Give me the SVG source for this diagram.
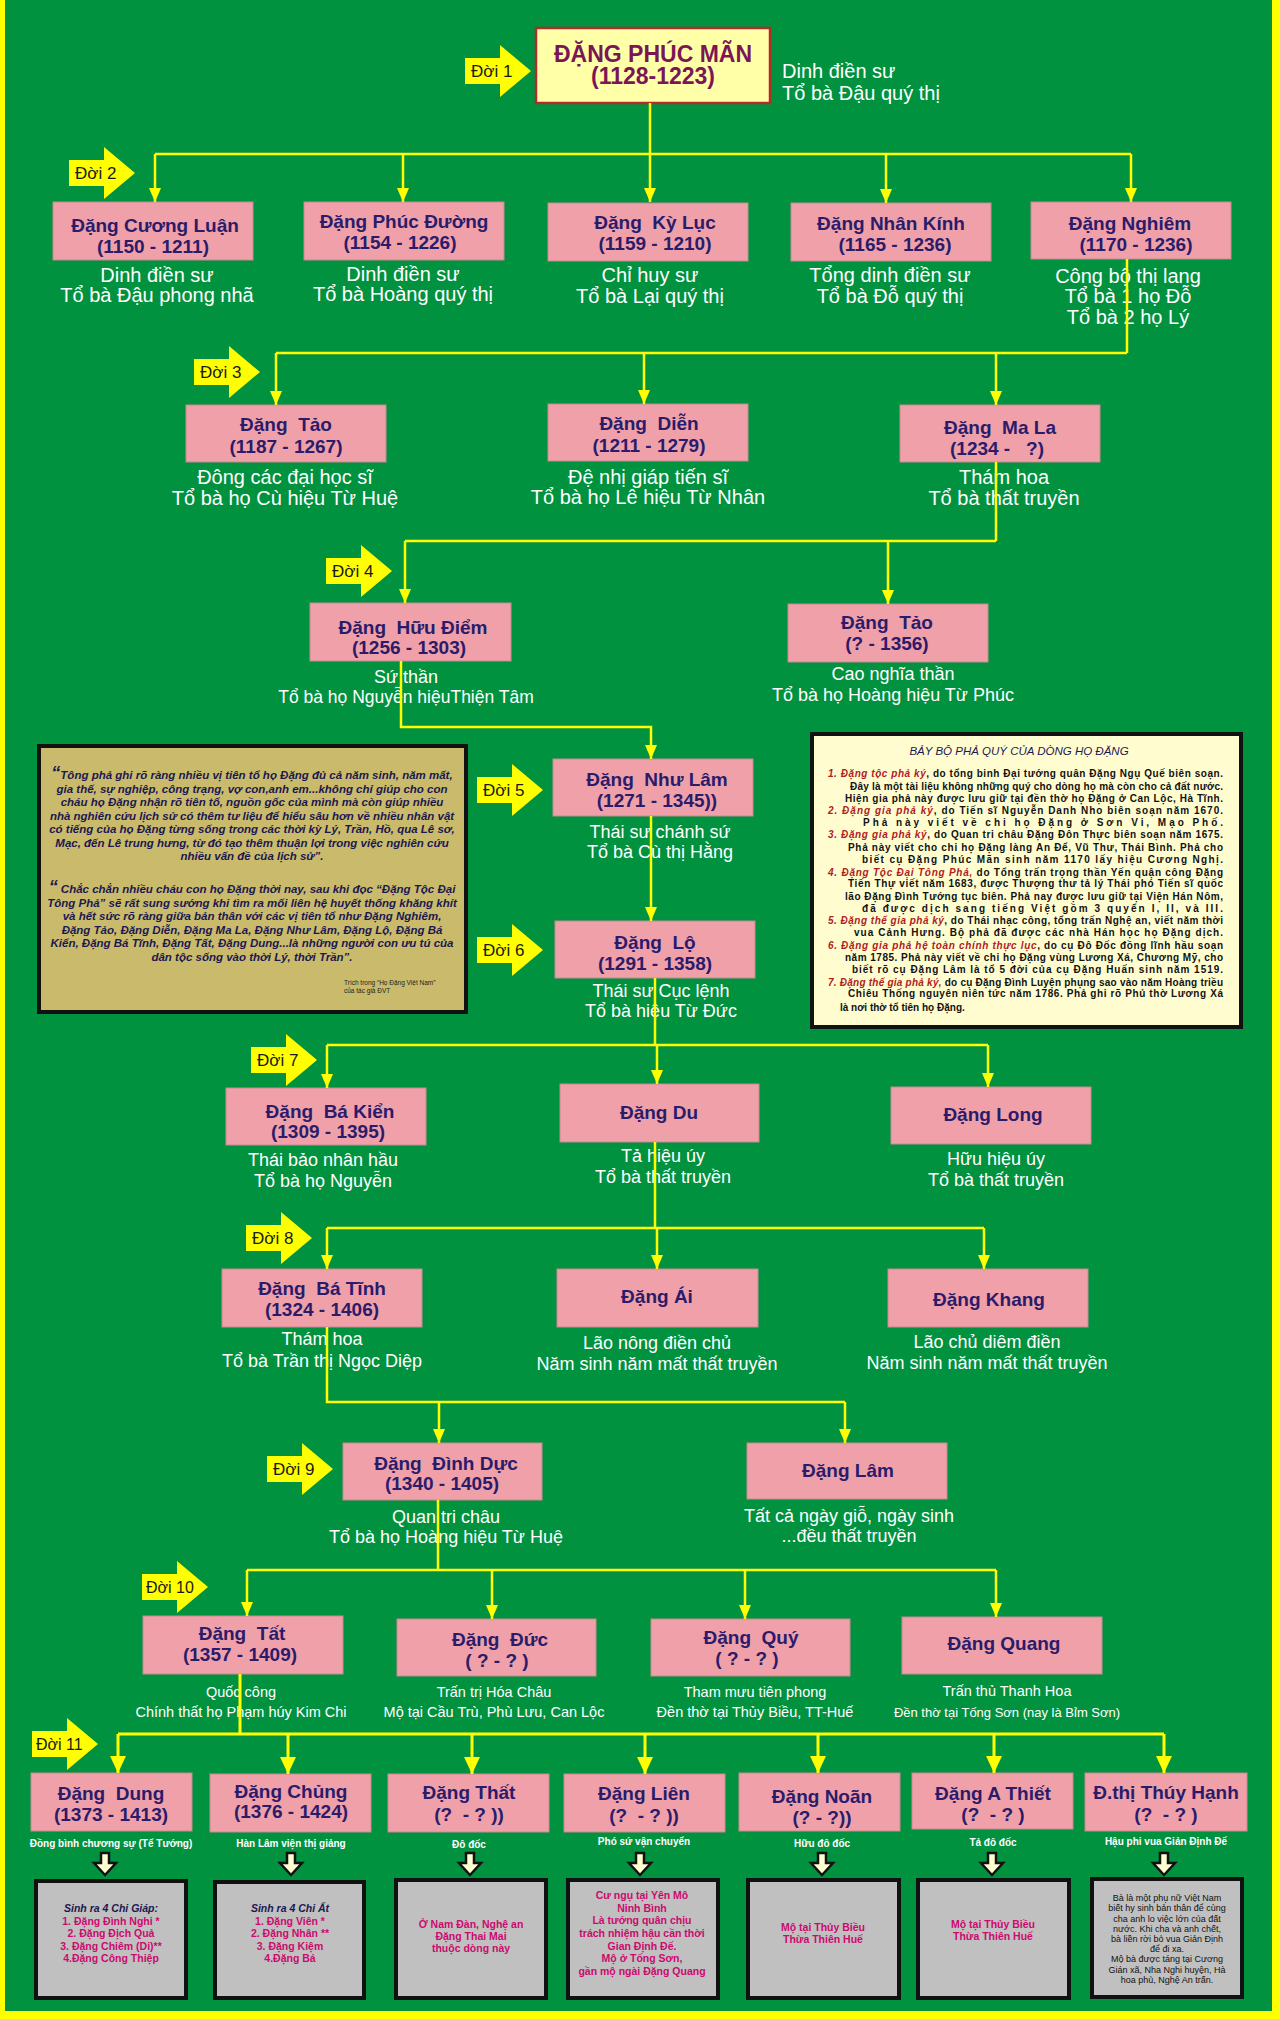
<svg xmlns="http://www.w3.org/2000/svg" width="1280" height="2019" viewBox="0 0 1280 2019">
<style>
text{font-family:"Liberation Sans",Arial,sans-serif}
.name{font-size:19px;font-weight:bold;fill:#2a1b6b;text-anchor:middle;white-space:pre}
.root{font-size:23px;font-weight:bold;fill:#7a1655;text-anchor:middle}
.sub{font-size:18px;fill:#fff;text-anchor:middle}
.subL{font-size:20px;fill:#fff;text-anchor:middle}
.sub10{font-size:14.5px;fill:#fff;text-anchor:middle}
.s11{font-size:10px;font-weight:bold;fill:#fff;text-anchor:middle}
.doi{font-size:17px;fill:#1a1a1a}
.box{fill:#f0a0a8;stroke:#c98a92;stroke-width:1}
.gbox{fill:#c0c0c0;stroke:#111;stroke-width:4}
.mag{font-size:10.5px;font-weight:bold;fill:#cc0a6e;text-anchor:middle}
.hd{font-size:10.5px;font-weight:bold;font-style:italic;fill:#1c1750;text-anchor:middle}
.blk{font-size:9px;fill:#111;text-anchor:middle}
.qt{font-size:11.5px;font-weight:bold;font-style:italic;fill:#1c1750;text-anchor:middle}
.rb{font-size:10px;font-weight:bold;fill:#111}
.red{fill:#b0201e;font-style:italic}
.ya{fill:#ffff00}
.da{fill:#ffffd0;stroke:#111;stroke-width:2.5}
.ln{fill:none;stroke:#ffff00;stroke-width:2.5}
.lnb{fill:none;stroke:#ffff00;stroke-width:3}
</style>
<defs>
<marker id="ah" viewBox="0 0 14 12" refX="14" refY="6" markerWidth="14" markerHeight="12" markerUnits="userSpaceOnUse" orient="auto"><path d="M0,0 L14,6 L0,12 Z" fill="#ffff00"/></marker>
<marker id="ahb" viewBox="0 0 17 16" refX="17" refY="8" markerWidth="17" markerHeight="16" markerUnits="userSpaceOnUse" orient="auto"><path d="M0,0 L17,8 L0,16 Z" fill="#ffff00"/></marker>
<path id="doiShape" d="M0,-13 H35 V-26 L66,0 L35,26 V13 H0 Z"/>
</defs>

<rect x="0" y="0" width="1280" height="2019" fill="#ffff00"/>
<rect x="5" y="0" width="1267" height="2011" fill="#00923f"/>

<!-- Doi arrows -->
<g id="doi-labels">
<g transform="translate(465,71)"><use href="#doiShape" class="ya"/><text class="doi" x="6" y="6">Đời 1</text></g>
<g transform="translate(69,173)"><use href="#doiShape" class="ya"/><text class="doi" x="6" y="6">Đời 2</text></g>
<g transform="translate(194,372)"><use href="#doiShape" class="ya"/><text class="doi" x="6" y="6">Đời 3</text></g>
<g transform="translate(326,571)"><use href="#doiShape" class="ya"/><text class="doi" x="6" y="6">Đời 4</text></g>
<g transform="translate(477,790)"><use href="#doiShape" class="ya"/><text class="doi" x="6" y="6">Đời 5</text></g>
<g transform="translate(477,950)"><use href="#doiShape" class="ya"/><text class="doi" x="6" y="6">Đời 6</text></g>
<g transform="translate(251,1060)"><use href="#doiShape" class="ya"/><text class="doi" x="6" y="6">Đời 7</text></g>
<g transform="translate(246,1238)"><use href="#doiShape" class="ya"/><text class="doi" x="6" y="6">Đời 8</text></g>
<g transform="translate(267,1469)"><use href="#doiShape" class="ya"/><text class="doi" x="6" y="6">Đời 9</text></g>
<g transform="translate(142,1587)"><use href="#doiShape" class="ya"/><text class="doi" x="4" y="6" style="font-size:16px">Đời 10</text></g>
<g transform="translate(32,1744)"><use href="#doiShape" class="ya"/><text class="doi" x="4" y="6" style="font-size:16px">Đời 11</text></g>
</g>

<!-- Gen 1 -->
<g id="n-phuc-man">
<rect x="536" y="28" width="234" height="75" fill="#ffffa8" stroke="#b22a2a" stroke-width="2.5"/>
<text class="root" x="653" y="62">ĐẶNG PHÚC MÃN</text>
<text class="root" x="653" y="84">(1128-1223)</text>
<text class="subL" x="782" y="78" style="text-anchor:start">Dinh điền sư</text>
<text class="subL" x="782" y="100" style="text-anchor:start">Tổ bà Đậu quý thị</text>
</g>

<!-- Gen 2 -->
<g id="n-cuong-luan"><rect class="box" x="53" y="202" width="200" height="58"/>
<text class="name" x="155" y="232">Đặng Cương Luận</text><text class="name" x="153" y="253">(1150 - 1211)</text>
<text class="subL" x="157" y="282">Dinh điền sư</text><text class="subL" x="157" y="302">Tổ bà Đậu phong nhã</text></g>
<g id="n-phuc-duong"><rect class="box" x="304" y="202" width="200" height="58"/>
<text class="name" x="404" y="228">Đặng Phúc Đường</text><text class="name" x="400" y="249">(1154 - 1226)</text>
<text class="subL" x="403" y="281">Dinh điền sư</text><text class="subL" x="403" y="301">Tổ bà Hoàng quý thị</text></g>
<g id="n-ky-luc"><rect class="box" x="548" y="203" width="200" height="58"/>
<text class="name" x="655" y="229">Đặng  Kỳ Lục</text><text class="name" x="655" y="250">(1159 - 1210)</text>
<text class="subL" x="650" y="282">Chỉ huy sư</text><text class="subL" x="650" y="303">Tổ bà Lại quý thị</text></g>
<g id="n-nhan-kinh"><rect class="box" x="791" y="203" width="200" height="58"/>
<text class="name" x="891" y="230">Đặng Nhân Kính</text><text class="name" x="895" y="251">(1165 - 1236)</text>
<text class="subL" x="890" y="282">Tổng dinh điền sư</text><text class="subL" x="890" y="303">Tổ bà Đỗ quý thị</text></g>
<g id="n-nghiem"><rect class="box" x="1031" y="202" width="200" height="57"/>
<text class="name" x="1130" y="230">Đặng Nghiêm</text><text class="name" x="1136" y="251">(1170 - 1236)</text>
<text class="subL" x="1128" y="283">Công bộ thị lang</text><text class="subL" x="1128" y="303">Tổ bà 1 họ Đỗ</text><text class="subL" x="1128" y="324">Tổ bà 2 họ Lý</text></g>

<!-- Gen 3 -->
<g id="n-tao-1"><rect class="box" x="186" y="405" width="200" height="57"/>
<text class="name" x="286" y="431">Đặng  Tảo</text><text class="name" x="286" y="453">(1187 - 1267)</text>
<text class="subL" x="285" y="484">Đông các đại học sĩ</text><text class="subL" x="285" y="505">Tổ bà họ Cù hiệu Từ Huệ</text></g>
<g id="n-dien"><rect class="box" x="548" y="404" width="200" height="57"/>
<text class="name" x="649" y="430">Đặng  Diễn</text><text class="name" x="649" y="452">(1211 - 1279)</text>
<text class="subL" x="648" y="484">Đệ nhị giáp tiến sĩ</text><text class="subL" x="648" y="504">Tổ bà họ Lê hiệu Từ Nhân</text></g>
<g id="n-ma-la"><rect class="box" x="900" y="405" width="200" height="57"/>
<text class="name" x="1000" y="434">Đặng  Ma La</text><text class="name" x="997" y="455">(1234 -   ?)</text>
<text class="subL" x="1004" y="484">Thám hoa</text><text class="subL" x="1004" y="505">Tổ bà thất truyền</text></g>

<!-- Gen 4 -->
<g id="n-huu-diem"><rect class="box" x="310" y="603" width="201" height="58"/>
<text class="name" x="413" y="634">Đặng  Hữu Điểm</text><text class="name" x="409" y="654">(1256 - 1303)</text>
<text class="sub" x="406" y="683">Sứ thần</text><text class="sub" x="406" y="703" style="font-size:17.5px">Tổ bà họ Nguyễn hiệuThiện Tâm</text></g>
<g id="n-tao-2"><rect class="box" x="788" y="604" width="200" height="58"/>
<text class="name" x="887" y="629">Đặng  Tảo</text><text class="name" x="887" y="650">(? - 1356)</text>
<text class="sub" x="893" y="680">Cao nghĩa thần</text><text class="sub" x="893" y="701">Tổ bà họ Hoàng hiệu Từ Phúc</text></g>

<!-- Gen 5 -->
<g id="n-nhu-lam"><rect class="box" x="553" y="759" width="200" height="57"/>
<text class="name" x="657" y="786">Đặng  Như Lâm</text><text class="name" x="657" y="807">(1271 - 1345))</text>
<text class="sub" x="660" y="838">Thái sư chánh sứ</text><text class="sub" x="660" y="858">Tổ bà Cù thị Hằng</text></g>

<!-- Gen 6 -->
<g id="n-lo"><rect class="box" x="555" y="921" width="200" height="57"/>
<text class="name" x="655" y="949">Đặng  Lộ</text><text class="name" x="655" y="970">(1291 - 1358)</text>
<text class="sub" x="661" y="997">Thái sư Cục lệnh</text><text class="sub" x="661" y="1017">Tổ bà hiệu Từ Đức</text></g>

<!-- Quote box -->
<g id="quote-box">
<rect x="39" y="746" width="427" height="266" fill="#c9bb6b" stroke="#111" stroke-width="4"/>
<text class="qt" x="252" y="779"><tspan style="font-size:18px">“</tspan>Tông phả ghi rõ ràng nhiều vị tiên tổ họ Đặng đủ cả năm sinh, năm mất,</text>
<text class="qt" x="252" y="792.5">gia thế, sự nghiệp, công trạng, vợ con,anh em...không chỉ giúp cho con</text>
<text class="qt" x="252" y="806">cháu họ Đặng nhận rõ tiên tổ, nguồn gốc của mình mà còn giúp nhiều</text>
<text class="qt" x="252" y="819.5">nhà nghiên cứu lịch sử có thêm tư liệu để hiểu sâu hơn về nhiều nhân vật</text>
<text class="qt" x="252" y="833">có tiếng của họ Đặng từng sống trong các thời kỳ Lý, Trần, Hồ, qua Lê sơ,</text>
<text class="qt" x="252" y="846.5">Mạc, đến Lê trung hưng, từ đó tạo thêm thuận lợi trong việc nghiên cứu</text>
<text class="qt" x="252" y="860">nhiều vấn đề của lịch sử”.</text>
<text class="qt" x="252" y="893"><tspan style="font-size:18px">“</tspan> Chắc chắn nhiều cháu con họ Đặng thời nay, sau khi đọc “Đặng Tộc Đại</text>
<text class="qt" x="252" y="906.5">Tông Phả” sẽ rất sung sướng khi tìm ra mối liên hệ huyết thống khăng khít</text>
<text class="qt" x="252" y="920">và hết sức rõ ràng giữa bản thân với các vị tiên tổ như Đặng Nghiêm,</text>
<text class="qt" x="252" y="933.5">Đặng Tảo, Đặng Diễn, Đặng Ma La, Đặng Như Lâm, Đặng Lộ, Đặng Bá</text>
<text class="qt" x="252" y="947">Kiển, Đặng Bá Tĩnh, Đặng Tất, Đặng Dung...là những người con ưu tú của</text>
<text class="qt" x="252" y="960.5">dân tộc sống vào thời Lý, thời Trần”.</text>
<text x="344" y="985" style="font-size:6.5px;fill:#222">Trích trong “Họ Đặng Việt Nam”</text>
<text x="344" y="993" style="font-size:6.5px;fill:#222">của tác giả ĐVT</text>
</g>

<!-- Right box -->
<g id="pha-box">
<rect x="812" y="734" width="429" height="293" fill="#fffdd0" stroke="#111" stroke-width="4"/>
<text x="1019" y="755" style="font-size:11.5px;font-style:italic;fill:#1c1750;text-anchor:middle">BẢY BỘ PHẢ QUÝ CỦA DÒNG HỌ ĐẶNG</text>
<text class="rb" x="828" y="777" textLength="395" lengthAdjust="spacing"><tspan class="red">1. Đặng tộc phả ký</tspan>, do tổng binh Đại tướng quân Đặng Ngụ Quế biên soạn.</text>
<text class="rb" x="850" y="790" textLength="373" lengthAdjust="spacing">Đây là một tài liệu không những quý cho dòng họ mà còn cho cả đất nước.</text>
<text class="rb" x="845" y="802" textLength="378" lengthAdjust="spacing">Hiện gia phả này được lưu giữ tại đền thờ họ Đặng ở Can Lộc, Hà Tĩnh.</text>
<text class="rb" x="828" y="814" textLength="395" lengthAdjust="spacing"><tspan class="red">2. Đặng gia phả ký</tspan>, do Tiến sĩ Nguyễn Danh Nho biên soạn năm 1670.</text>
<text class="rb" x="863" y="826" textLength="360" lengthAdjust="spacing">Phả này viết về chi họ Đặng ở Sơn Vi, Mạo Phố.</text>
<text class="rb" x="828" y="838" textLength="395" lengthAdjust="spacing"><tspan class="red">3. Đặng gia phả ký</tspan>, do Quan tri châu Đặng Đôn Thực biên soạn năm 1675.</text>
<text class="rb" x="848" y="851" textLength="375" lengthAdjust="spacing">Phả này viết cho chi họ Đặng làng An Để, Vũ Thư, Thái Bình. Phả cho</text>
<text class="rb" x="862" y="863" textLength="361" lengthAdjust="spacing">biết cụ Đặng Phúc Mãn sinh năm 1170 lấy hiệu Cương Nghị.</text>
<text class="rb" x="828" y="876" textLength="395" lengthAdjust="spacing"><tspan class="red">4. Đặng Tộc Đại Tông Phả,</tspan> do Tổng trấn trọng thần Yến quận công Đặng</text>
<text class="rb" x="848" y="887" textLength="375" lengthAdjust="spacing">Tiến Thự viết năm 1683, được Thượng thư tả lý Thái phó Tiến sĩ quốc</text>
<text class="rb" x="845" y="900" textLength="378" lengthAdjust="spacing">lão Đặng Đình Tướng tục biên. Phả nay được lưu giữ tại Viện Hán Nôm,</text>
<text class="rb" x="862" y="912" textLength="361" lengthAdjust="spacing">đã được dịch sang tiếng Việt gồm 3 quyển I, II, và III.</text>
<text class="rb" x="828" y="924" textLength="395" lengthAdjust="spacing"><tspan class="red">5. Đặng thế gia phả ký</tspan>, do Thái nhạc công, tổng trấn Nghệ an, viết năm thời</text>
<text class="rb" x="854" y="936" textLength="369" lengthAdjust="spacing">vua Cảnh Hưng. Bộ phả đã được các nhà Hán học họ Đặng dịch.</text>
<text class="rb" x="828" y="949" textLength="395" lengthAdjust="spacing"><tspan class="red">6. Đặng gia phả hệ toàn chính thực lục</tspan>, do cụ Đô Đốc đồng lĩnh hầu soạn</text>
<text class="rb" x="845" y="961" textLength="378" lengthAdjust="spacing">năm 1785. Phả này viết về chi họ Đặng vùng Lương Xá, Chương Mỹ, cho</text>
<text class="rb" x="852" y="973" textLength="371" lengthAdjust="spacing">biết rõ cụ Đặng Lâm là tổ 5 đời của cụ Đặng Huấn sinh năm 1519.</text>
<text class="rb" x="828" y="986" textLength="395" lengthAdjust="spacing"><tspan class="red">7. Đặng thế gia phả ký,</tspan> do cụ Đặng Đình Luyện phụng sao vào năm Hoàng triều</text>
<text class="rb" x="848" y="997" textLength="375" lengthAdjust="spacing">Chiêu Thống nguyên niên tức năm 1786. Phả ghi rõ Phủ thờ Lương Xá</text>
<text class="rb" x="840" y="1011">là nơi thờ tổ tiên họ Đặng.</text>
</g>

<!-- Gen 7 -->
<g id="n-ba-kien"><rect class="box" x="226" y="1088" width="200" height="57"/>
<text class="name" x="330" y="1118">Đặng  Bá Kiển</text><text class="name" x="328" y="1138">(1309 - 1395)</text>
<text class="sub" x="323" y="1166">Thái bảo nhân hầu</text><text class="sub" x="323" y="1187">Tổ bà họ Nguyễn</text></g>
<g id="n-du"><rect class="box" x="560" y="1084" width="199" height="58"/>
<text class="name" x="659" y="1119">Đặng Du</text>
<text class="sub" x="663" y="1162">Tả hiệu úy</text><text class="sub" x="663" y="1183">Tổ bà thất truyền</text></g>
<g id="n-long"><rect class="box" x="891" y="1087" width="200" height="57"/>
<text class="name" x="993" y="1121">Đặng Long</text>
<text class="sub" x="996" y="1165">Hữu hiệu úy</text><text class="sub" x="996" y="1186">Tổ bà thất truyền</text></g>

<!-- Gen 8 -->
<g id="n-ba-tinh"><rect class="box" x="222" y="1269" width="200" height="58"/>
<text class="name" x="322" y="1295">Đặng  Bá Tĩnh</text><text class="name" x="322" y="1316">(1324 - 1406)</text>
<text class="sub" x="322" y="1345">Thám hoa</text><text class="sub" x="322" y="1367">Tổ bà Trần thị Ngọc Diệp</text></g>
<g id="n-ai"><rect class="box" x="557" y="1269" width="201" height="58"/>
<text class="name" x="657" y="1303">Đặng Ái</text>
<text class="sub" x="657" y="1349">Lão nông điền chủ</text><text class="sub" x="657" y="1370">Năm sinh năm mất thất truyền</text></g>
<g id="n-khang"><rect class="box" x="888" y="1269" width="200" height="58"/>
<text class="name" x="989" y="1306">Đặng Khang</text>
<text class="sub" x="987" y="1348">Lão chủ diêm điền</text><text class="sub" x="987" y="1369">Năm sinh năm mất thất truyền</text></g>

<!-- Gen 9 -->
<g id="n-dinh-duc"><rect class="box" x="343" y="1443" width="199" height="57"/>
<text class="name" x="446" y="1470">Đặng  Đình Dực</text><text class="name" x="442" y="1490">(1340 - 1405)</text>
<text class="sub" x="446" y="1523">Quan tri châu</text><text class="sub" x="446" y="1543">Tổ bà họ Hoàng hiệu Từ Huệ</text></g>
<g id="n-lam"><rect class="box" x="747" y="1443" width="200" height="56"/>
<text class="name" x="848" y="1477">Đặng Lâm</text>
<text class="sub" x="849" y="1522">Tất cả ngày giỗ, ngày sinh</text><text class="sub" x="849" y="1542">...đều thất truyền</text></g>

<!-- Gen 10 -->
<g id="n-tat"><rect class="box" x="143" y="1616" width="200" height="58"/>
<text class="name" x="242" y="1640">Đặng  Tất</text><text class="name" x="240" y="1661">(1357 - 1409)</text>
<text class="sub10" x="241" y="1697">Quốc công</text><text class="sub10" x="241" y="1717">Chính thất họ Phạm húy Kim Chi</text></g>
<g id="n-duc"><rect class="box" x="397" y="1619" width="199" height="57"/>
<text class="name" x="500" y="1646">Đặng  Đức</text><text class="name" x="497" y="1667">( ? - ? )</text>
<text class="sub10" x="494" y="1697">Trấn trị Hóa Châu</text><text class="sub10" x="494" y="1717">Mộ tại Cầu Trù, Phù Lưu, Can Lộc</text></g>
<g id="n-quy"><rect class="box" x="651" y="1619" width="199" height="57"/>
<text class="name" x="751" y="1644">Đặng  Quý</text><text class="name" x="747" y="1665">( ? - ? )</text>
<text class="sub10" x="755" y="1697">Tham mưu tiên phong</text><text class="sub10" x="755" y="1717">Đền thờ tại Thủy Biều, TT-Huế</text></g>
<g id="n-quang"><rect class="box" x="902" y="1617" width="200" height="57"/>
<text class="name" x="1004" y="1650">Đặng Quang</text>
<text class="sub10" x="1007" y="1696">Trấn thủ Thanh Hoa</text><text class="sub10" x="1007" y="1717" style="font-size:13px">Đền thờ tại Tống Sơn (nay là Bỉm Sơn)</text></g>

<!-- Gen 11 -->
<g id="n-dung"><rect class="box" x="31" y="1773" width="161" height="58"/>
<text class="name" x="111" y="1800">Đặng  Dung</text><text class="name" x="111" y="1821">(1373 - 1413)</text>
<text class="s11" x="111" y="1847">Đồng bình chương sự (Tể Tướng)</text></g>
<g id="n-chung"><rect class="box" x="210" y="1774" width="161" height="58"/>
<text class="name" x="291" y="1798">Đặng Chủng</text><text class="name" x="291" y="1818">(1376 - 1424)</text>
<text class="s11" x="291" y="1847">Hàn Lâm viện thị giảng</text></g>
<g id="n-that"><rect class="box" x="388" y="1774" width="161" height="58"/>
<text class="name" x="469" y="1799">Đặng Thất</text><text class="name" x="469" y="1821">(?  - ? ))</text>
<text class="s11" x="469" y="1848">Đô đốc</text></g>
<g id="n-lien"><rect class="box" x="564" y="1774" width="161" height="58"/>
<text class="name" x="644" y="1800">Đặng Liên</text><text class="name" x="644" y="1822">(?  - ? ))</text>
<text class="s11" x="644" y="1845">Phó sứ vận chuyển</text></g>
<g id="n-noan"><rect class="box" x="739" y="1773" width="161" height="58"/>
<text class="name" x="822" y="1803">Đặng Noãn</text><text class="name" x="822" y="1824">(? - ?))</text>
<text class="s11" x="822" y="1847">Hữu đô đốc</text></g>
<g id="n-a-thiet"><rect class="box" x="912" y="1773" width="161" height="56"/>
<text class="name" x="993" y="1800">Đặng A Thiết</text><text class="name" x="993" y="1821">(?  - ? )</text>
<text class="s11" x="993" y="1846">Tả đô đốc</text></g>
<g id="n-thuy-hanh"><rect class="box" x="1085" y="1773" width="162" height="58"/>
<text class="name" x="1166" y="1799">Đ.thị Thúy Hạnh</text><text class="name" x="1166" y="1821">(?  - ? )</text>
<text class="s11" x="1166" y="1845">Hậu phi vua Giản Định Đế</text></g>

<!-- Bottom info boxes -->
<g id="info-dung"><rect class="gbox" x="36" y="1881" width="150" height="117"/>
<text class="hd" x="111" y="1912">Sinh ra 4 Chi Giáp:</text>
<text class="mag" x="111" y="1924.5">1. Đặng Đình Nghi *</text>
<text class="mag" x="111" y="1937">2. Đặng Địch Quả</text>
<text class="mag" x="111" y="1949.5">3. Đặng Chiêm (Di)**</text>
<text class="mag" x="111" y="1962">4.Đặng Công Thiệp</text></g>
<g id="info-chung"><rect class="gbox" x="215" y="1882" width="149" height="116"/>
<text class="hd" x="290" y="1912">Sinh ra 4 Chi Ất</text>
<text class="mag" x="290" y="1924.5">1. Đặng Viên *</text>
<text class="mag" x="290" y="1937">2. Đặng Nhân **</text>
<text class="mag" x="290" y="1949.5">3. Đặng Kiệm</text>
<text class="mag" x="290" y="1962">4.Đặng Bá</text></g>
<g id="info-that"><rect class="gbox" x="396" y="1880" width="150" height="118"/>
<text class="mag" x="471" y="1928">Ở Nam Đàn, Nghệ an</text>
<text class="mag" x="471" y="1940">Đặng Thai Mai</text>
<text class="mag" x="471" y="1952">thuộc dòng này</text></g>
<g id="info-lien"><rect class="gbox" x="568" y="1880" width="150" height="118"/>
<text class="mag" x="642" y="1899">Cư ngụ tại Yên Mô</text>
<text class="mag" x="642" y="1911.5">Ninh Bình</text>
<text class="mag" x="642" y="1924">Là tướng quân chịu</text>
<text class="mag" x="642" y="1937">trách nhiệm hậu cần thời</text>
<text class="mag" x="642" y="1949.5">Gian Định Đế.</text>
<text class="mag" x="642" y="1962">Mộ ở Tống Sơn,</text>
<text class="mag" x="642" y="1975">gần mộ ngài Đặng Quang</text></g>
<g id="info-noan"><rect class="gbox" x="748" y="1880" width="151" height="118"/>
<text class="mag" x="823" y="1931">Mộ tại Thủy Biều</text>
<text class="mag" x="823" y="1942.5">Thừa Thiên Huế</text></g>
<g id="info-a-thiet"><rect class="gbox" x="918" y="1880" width="151" height="118"/>
<text class="mag" x="993" y="1928">Mộ tại Thủy Biều</text>
<text class="mag" x="993" y="1939.5">Thừa Thiên Huế</text></g>
<g id="info-thuy-hanh"><rect class="gbox" x="1092" y="1879" width="150" height="118"/>
<text class="blk" x="1167" y="1901">Bà là một phụ nữ Việt Nam</text>
<text class="blk" x="1167" y="1911">biết hy sinh bản thân để cùng</text>
<text class="blk" x="1167" y="1921.5">cha anh lo việc lớn của đất</text>
<text class="blk" x="1167" y="1931.5">nước. Khi cha và anh chết,</text>
<text class="blk" x="1167" y="1942">bà liền rời bỏ vua Giản Định</text>
<text class="blk" x="1167" y="1952">để đi xa.</text>
<text class="blk" x="1167" y="1962">Mộ bà được táng tại Cương</text>
<text class="blk" x="1167" y="1972.5">Gián xã, Nha Nghi huyện, Hà</text>
<text class="blk" x="1167" y="1982.5">hoa phủ, Nghệ An trấn.</text></g>

<!-- Connectors -->
<g id="connectors">
<path class="ln" d="M650,103 V154 M155,154 H1131"/>
<path class="ln" d="M155,154 V202" marker-end="url(#ah)"/>
<path class="ln" d="M403,154 V202" marker-end="url(#ah)"/>
<path class="ln" d="M650,154 V202" marker-end="url(#ah)"/>
<path class="ln" d="M886,154 V203" marker-end="url(#ah)"/>
<path class="ln" d="M1131,154 V202" marker-end="url(#ah)"/>

<path class="ln" d="M1127,259 V353 M276,353 H1127"/>
<path class="ln" d="M276,353 V405" marker-end="url(#ah)"/>
<path class="ln" d="M644,353 V404" marker-end="url(#ah)"/>
<path class="ln" d="M996,353 V405" marker-end="url(#ah)"/>

<path class="ln" d="M996,462 V541 M405,541 H996"/>
<path class="ln" d="M405,541 V603" marker-end="url(#ah)"/>
<path class="ln" d="M888,541 V604" marker-end="url(#ah)"/>

<path class="ln" d="M401,661 V727 H651 V759" marker-end="url(#ah)"/>
<path class="ln" d="M651,816 V921" marker-end="url(#ah)"/>

<path class="ln" d="M655,978 V1045 M327,1045 H988"/>
<path class="ln" d="M327,1045 V1088" marker-end="url(#ah)"/>
<path class="ln" d="M657,1045 V1084" marker-end="url(#ah)"/>
<path class="ln" d="M988,1045 V1087" marker-end="url(#ah)"/>

<path class="ln" d="M655,1142 V1228 M327,1228 H984"/>
<path class="ln" d="M327,1228 V1269" marker-end="url(#ah)"/>
<path class="ln" d="M657,1228 V1269" marker-end="url(#ah)"/>
<path class="ln" d="M984,1228 V1269" marker-end="url(#ah)"/>

<path class="ln" d="M327,1327 V1402 H845"/>
<path class="ln" d="M439,1402 V1443" marker-end="url(#ah)"/>
<path class="ln" d="M845,1402 V1443" marker-end="url(#ah)"/>

<path class="ln" d="M438,1500 V1570 M247,1570 H996"/>
<path class="ln" d="M247,1570 V1616" marker-end="url(#ah)"/>
<path class="ln" d="M492,1570 V1619" marker-end="url(#ah)"/>
<path class="ln" d="M745,1570 V1619" marker-end="url(#ah)"/>
<path class="ln" d="M996,1570 V1617" marker-end="url(#ah)"/>

<path class="lnb" d="M240,1674 V1734 M118,1734 H1164"/>
<path class="lnb" d="M118,1734 V1773" marker-end="url(#ahb)"/>
<path class="lnb" d="M288,1734 V1774" marker-end="url(#ahb)"/>
<path class="lnb" d="M472,1734 V1774" marker-end="url(#ahb)"/>
<path class="lnb" d="M645,1734 V1774" marker-end="url(#ahb)"/>
<path class="lnb" d="M818,1734 V1773" marker-end="url(#ahb)"/>
<path class="lnb" d="M994,1734 V1773" marker-end="url(#ahb)"/>
<path class="lnb" d="M1164,1734 V1773" marker-end="url(#ahb)"/>

<path class="da" d="M101,1853 h8 v10 h7 l-11,12 l-11,-12 h7 z"/>
<path class="da" d="M287,1853 h8 v10 h7 l-11,12 l-11,-12 h7 z"/>
<path class="da" d="M466,1853 h8 v10 h7 l-11,12 l-11,-12 h7 z"/>
<path class="da" d="M636,1853 h8 v10 h7 l-11,12 l-11,-12 h7 z"/>
<path class="da" d="M818,1853 h8 v10 h7 l-11,12 l-11,-12 h7 z"/>
<path class="da" d="M988,1853 h8 v10 h7 l-11,12 l-11,-12 h7 z"/>
<path class="da" d="M1160,1853 h8 v10 h7 l-11,12 l-11,-12 h7 z"/>
</g>
</svg>
